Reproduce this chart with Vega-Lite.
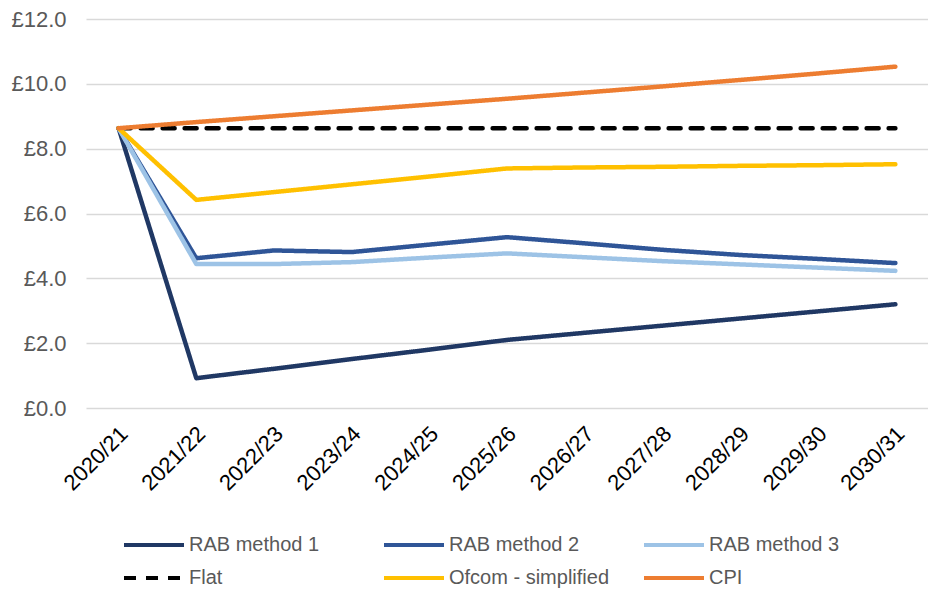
{
  "$schema": "https://vega.github.io/schema/vega-lite/v6.json",
  "autosize": {"type": "none"},
  "padding": {"left": 86, "top": 19, "right": 0, "bottom": 183},
  "width": 842,
  "height": 389,
  "background": "#ffffff",
  "data": {"values": [
    {"year": "2020/21", "series": "RAB method 1", "value": 8.63},
    {"year": "2021/22", "series": "RAB method 1", "value": 0.92},
    {"year": "2022/23", "series": "RAB method 1", "value": 1.21},
    {"year": "2023/24", "series": "RAB method 1", "value": 1.51},
    {"year": "2024/25", "series": "RAB method 1", "value": 1.80},
    {"year": "2025/26", "series": "RAB method 1", "value": 2.10},
    {"year": "2026/27", "series": "RAB method 1", "value": 2.32},
    {"year": "2027/28", "series": "RAB method 1", "value": 2.54},
    {"year": "2028/29", "series": "RAB method 1", "value": 2.76},
    {"year": "2029/30", "series": "RAB method 1", "value": 2.98},
    {"year": "2030/31", "series": "RAB method 1", "value": 3.20},
    {"year": "2020/21", "series": "RAB method 2", "value": 8.63},
    {"year": "2021/22", "series": "RAB method 2", "value": 4.62},
    {"year": "2022/23", "series": "RAB method 2", "value": 4.86},
    {"year": "2023/24", "series": "RAB method 2", "value": 4.81},
    {"year": "2024/25", "series": "RAB method 2", "value": 5.04},
    {"year": "2025/26", "series": "RAB method 2", "value": 5.27},
    {"year": "2026/27", "series": "RAB method 2", "value": 5.08},
    {"year": "2027/28", "series": "RAB method 2", "value": 4.88},
    {"year": "2028/29", "series": "RAB method 2", "value": 4.72},
    {"year": "2029/30", "series": "RAB method 2", "value": 4.60},
    {"year": "2030/31", "series": "RAB method 2", "value": 4.47},
    {"year": "2020/21", "series": "RAB method 3", "value": 8.63},
    {"year": "2021/22", "series": "RAB method 3", "value": 4.44},
    {"year": "2022/23", "series": "RAB method 3", "value": 4.44},
    {"year": "2023/24", "series": "RAB method 3", "value": 4.50},
    {"year": "2024/25", "series": "RAB method 3", "value": 4.64},
    {"year": "2025/26", "series": "RAB method 3", "value": 4.77},
    {"year": "2026/27", "series": "RAB method 3", "value": 4.65},
    {"year": "2027/28", "series": "RAB method 3", "value": 4.53},
    {"year": "2028/29", "series": "RAB method 3", "value": 4.43},
    {"year": "2029/30", "series": "RAB method 3", "value": 4.33},
    {"year": "2030/31", "series": "RAB method 3", "value": 4.23},
    {"year": "2020/21", "series": "Flat", "value": 8.63},
    {"year": "2021/22", "series": "Flat", "value": 8.63},
    {"year": "2022/23", "series": "Flat", "value": 8.63},
    {"year": "2023/24", "series": "Flat", "value": 8.63},
    {"year": "2024/25", "series": "Flat", "value": 8.63},
    {"year": "2025/26", "series": "Flat", "value": 8.63},
    {"year": "2026/27", "series": "Flat", "value": 8.63},
    {"year": "2027/28", "series": "Flat", "value": 8.63},
    {"year": "2028/29", "series": "Flat", "value": 8.63},
    {"year": "2029/30", "series": "Flat", "value": 8.63},
    {"year": "2030/31", "series": "Flat", "value": 8.63},
    {"year": "2020/21", "series": "Ofcom - simplified", "value": 8.63},
    {"year": "2021/22", "series": "Ofcom - simplified", "value": 6.42},
    {"year": "2022/23", "series": "Ofcom - simplified", "value": 6.66},
    {"year": "2023/24", "series": "Ofcom - simplified", "value": 6.90},
    {"year": "2024/25", "series": "Ofcom - simplified", "value": 7.14},
    {"year": "2025/26", "series": "Ofcom - simplified", "value": 7.39},
    {"year": "2026/27", "series": "Ofcom - simplified", "value": 7.42},
    {"year": "2027/28", "series": "Ofcom - simplified", "value": 7.44},
    {"year": "2028/29", "series": "Ofcom - simplified", "value": 7.47},
    {"year": "2029/30", "series": "Ofcom - simplified", "value": 7.49},
    {"year": "2030/31", "series": "Ofcom - simplified", "value": 7.52},
    {"year": "2020/21", "series": "CPI", "value": 8.63},
    {"year": "2021/22", "series": "CPI", "value": 8.82},
    {"year": "2022/23", "series": "CPI", "value": 9.00},
    {"year": "2023/24", "series": "CPI", "value": 9.18},
    {"year": "2024/25", "series": "CPI", "value": 9.36},
    {"year": "2025/26", "series": "CPI", "value": 9.54},
    {"year": "2026/27", "series": "CPI", "value": 9.73},
    {"year": "2027/28", "series": "CPI", "value": 9.92},
    {"year": "2028/29", "series": "CPI", "value": 10.12},
    {"year": "2029/30", "series": "CPI", "value": 10.32},
    {"year": "2030/31", "series": "CPI", "value": 10.53}
  ]},
  "mark": {"type": "line", "strokeWidth": 4.5, "strokeJoin": "round", "strokeCap": "round"},
  "encoding": {
    "x": {
      "field": "year", "type": "ordinal", "sort": null,
      "scale": {"type": "point", "padding": 0.42},
      "axis": {
        "title": null, "domain": false, "ticks": false, "grid": false,
        "labelAngle": -45, "labelAlign": "right", "labelBaseline": "middle",
        "labelPadding": 22, "labelOffset": 5, "labelFont": "Liberation Sans", "labelFontSize": 22,
        "labelColor": "#000000"
      }
    },
    "y": {
      "field": "value", "type": "quantitative",
      "scale": {"domain": [0, 12], "nice": false, "zero": true},
      "axis": {
        "title": null, "domain": false, "ticks": false,
        "values": [0, 2, 4, 6, 8, 10, 12],
        "labelExpr": "'£' + format(datum.value, '.1f')",
        "labelFont": "Liberation Sans", "labelFontSize": 22, "labelColor": "#595959",
        "labelPadding": 20, "gridColor": "#D9D9D9", "gridWidth": 1.5
      }
    },
    "color": {
      "field": "series", "type": "nominal",
      "scale": {
        "domain": ["RAB method 1", "RAB method 2", "RAB method 3", "Flat", "Ofcom - simplified", "CPI"],
        "range": ["#203864", "#2F5597", "#9DC3E6", "#000000", "#FFC000", "#ED7D31"]
      },
      "legend": {
        "title": null, "orient": "none", "legendX": 51, "legendY": 509,
        "direction": "horizontal", "columns": 3, "gridAlign": "all",
        "columnPadding": 26, "rowPadding": 6,
        "symbolType": "M-2,0H2", "symbolSize": 900, "symbolStrokeWidth": 4,
        "labelFont": "Liberation Sans", "labelFontSize": 20, "labelColor": "#595959",
        "labelOffset": 18, "labelLimit": 300
      }
    },
    "strokeDash": {
      "field": "series", "type": "nominal",
      "scale": {
        "domain": ["RAB method 1", "RAB method 2", "RAB method 3", "Flat", "Ofcom - simplified", "CPI"],
        "range": [[1, 0], [1, 0], [1, 0], [12, 10], [1, 0], [1, 0]]
      },
      "legend": {
        "title": null, "orient": "none", "legendX": 51, "legendY": 509,
        "direction": "horizontal", "columns": 3, "gridAlign": "all",
        "columnPadding": 26, "rowPadding": 6,
        "symbolType": "M-2,0H2", "symbolSize": 900, "symbolStrokeWidth": 4,
        "labelFont": "Liberation Sans", "labelFontSize": 20, "labelColor": "#595959",
        "labelOffset": 18, "labelLimit": 300
      }
    }
  },
  "config": {"view": {"stroke": null}}
}
